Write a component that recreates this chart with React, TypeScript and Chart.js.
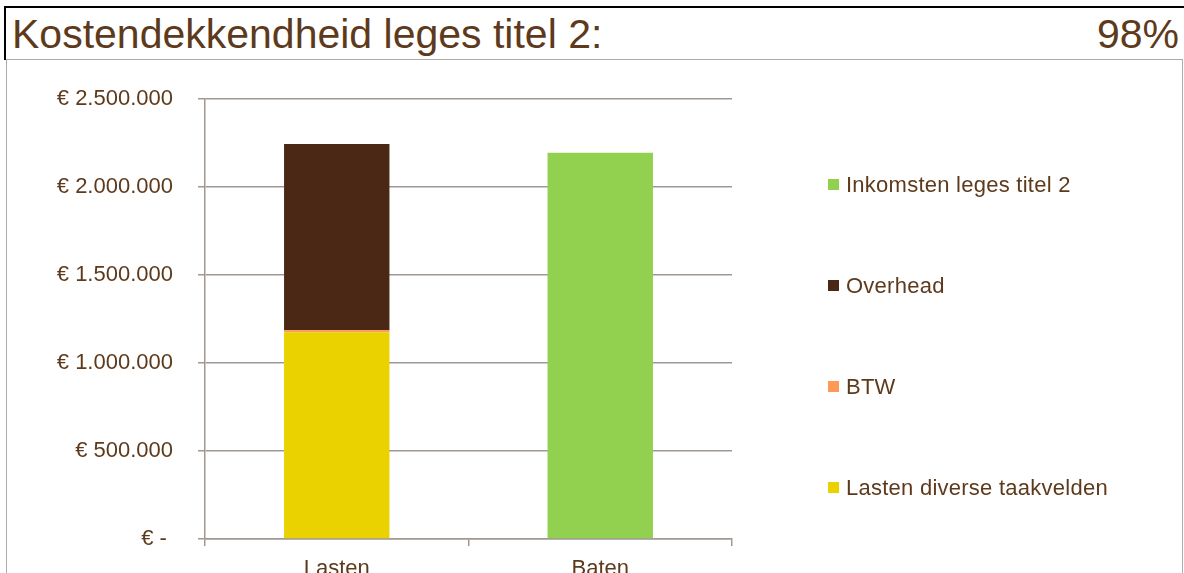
import React, { useEffect, useRef } from "react";
import { Chart, registerables } from "chart.js";

Chart.register(...registerables);

const titleText = "Kostendekkendheid leges titel 2:";
const categories = ["Lasten", "Baten"];
const seriesNames = ["Lasten diverse taakvelden", "BTW", "Overhead", "Inkomsten leges titel 2"];
const lastenDiverse = [1175000, null];
const btw = [11000, null];
const overhead = [1059000, null];
const inkomsten = [null, 2195000];
const seriesColors = ["#EAD200", "#FF9955", "#4B2815", "#92D050"];
const yTickValues = [0, 500000, 1000000, 1500000, 2000000, 2500000];
const yTickLabels = ["€ - ", "€ 500.000", "€ 1.000.000", "€ 1.500.000", "€ 2.000.000", "€ 2.500.000"];

const TEXT = "#5E3A1C";
const GRID = "#A09893";
const FONT = "'Liberation Sans', Arial, sans-serif";

const sum = (a: (number | null)[]) => a.reduce((s: number, v) => s + (v ?? 0), 0);

export default function App() {
  const ref = useRef<HTMLCanvasElement>(null);

  const pct = Math.round((sum(inkomsten) / (sum(lastenDiverse) + sum(btw) + sum(overhead))) * 100);

  useEffect(() => {
    if (!ref.current) return;
    const data = [lastenDiverse, btw, overhead, inkomsten];
    const chart = new Chart(ref.current, {
      type: "bar",
      data: {
        labels: categories,
        datasets: seriesNames.map((name, i) => ({
          label: name,
          data: data[i],
          backgroundColor: seriesColors[i],
          borderWidth: 0,
          categoryPercentage: 1,
          barPercentage: 0.4,
        })),
      },
      options: {
        responsive: false,
        animation: false,
        layout: { padding: { top: 40, left: 0, right: 452, bottom: 45 } },
        plugins: {
          legend: { display: false },
          tooltip: { enabled: false },
        },
        scales: {
          x: {
            stacked: true,
            offset: true,
            afterFit: (s: any) => { s.height = 35; },
            grid: { display: true, drawOnChartArea: false, drawTicks: true, tickLength: 7, color: GRID, lineWidth: 1.5, offset: true },
            border: { display: true, color: GRID, width: 1.5 },
            ticks: { font: { family: FONT, size: 22 }, color: TEXT, padding: 10 },
          },
          y: {
            stacked: true,
            min: 0,
            max: 2500000,
            afterFit: (s: any) => { s.width = 205; },
            grid: { color: GRID, tickLength: 7, lineWidth: 1.5 },
            border: { display: true, color: GRID, width: 1.5 },
            ticks: {
              stepSize: 500000,
              font: { family: FONT, size: 22 },
              color: TEXT,
              padding: 25,
              callback: (v: any) => {
                const i = yTickValues.indexOf(Number(v));
                return i >= 0 ? yTickLabels[i] : "";
              },
            },
          },
        },
      },
    } as any);
    return () => chart.destroy();
  }, []);

  const legendOrder = [3, 2, 1, 0];

  return (
    <div style={{ position: "fixed", left: 0, top: 0, width: 1184, height: 573, overflow: "hidden", background: "#fff" }}>
      <div
        style={{
          position: "absolute",
          left: 4,
          top: 6,
          width: 1200,
          height: 54,
          borderTop: "2px solid #000",
          borderLeft: "2px solid #000",
          boxSizing: "border-box",
        }}
      />
      <div
        style={{
          position: "absolute",
          left: 12,
          top: 14,
          fontFamily: FONT,
          fontSize: 41,
          lineHeight: "41px",
          color: TEXT,
          whiteSpace: "nowrap",
        }}
      >
        {titleText}
      </div>
      <div
        style={{
          position: "absolute",
          right: 5,
          top: 14,
          fontFamily: FONT,
          fontSize: 41,
          lineHeight: "41px",
          color: TEXT,
          whiteSpace: "nowrap",
        }}
      >
        {pct}%
      </div>
      <div
        style={{
          position: "absolute",
          left: 6,
          top: 59,
          width: 1177,
          height: 600,
          border: "1px solid #B0AAA5",
          boxSizing: "border-box",
        }}
      />
      <canvas ref={ref} width={1184} height={560} style={{ position: "absolute", left: 0, top: 59 }} />
      {legendOrder.map((idx, k) => (
        <div
          key={idx}
          style={{
            position: "absolute",
            left: 828,
            top: 184.5 + k * 101 - 13,
            height: 26,
            display: "flex",
            alignItems: "center",
            fontFamily: FONT,
            fontSize: 22,
            letterSpacing: "0.25px",
            color: TEXT,
            whiteSpace: "nowrap",
          }}
        >
          <span style={{ display: "inline-block", width: 11, height: 11, background: seriesColors[idx], marginRight: 7 }} />
          <span>{seriesNames[idx]}</span>
        </div>
      ))}
    </div>
  );
}
